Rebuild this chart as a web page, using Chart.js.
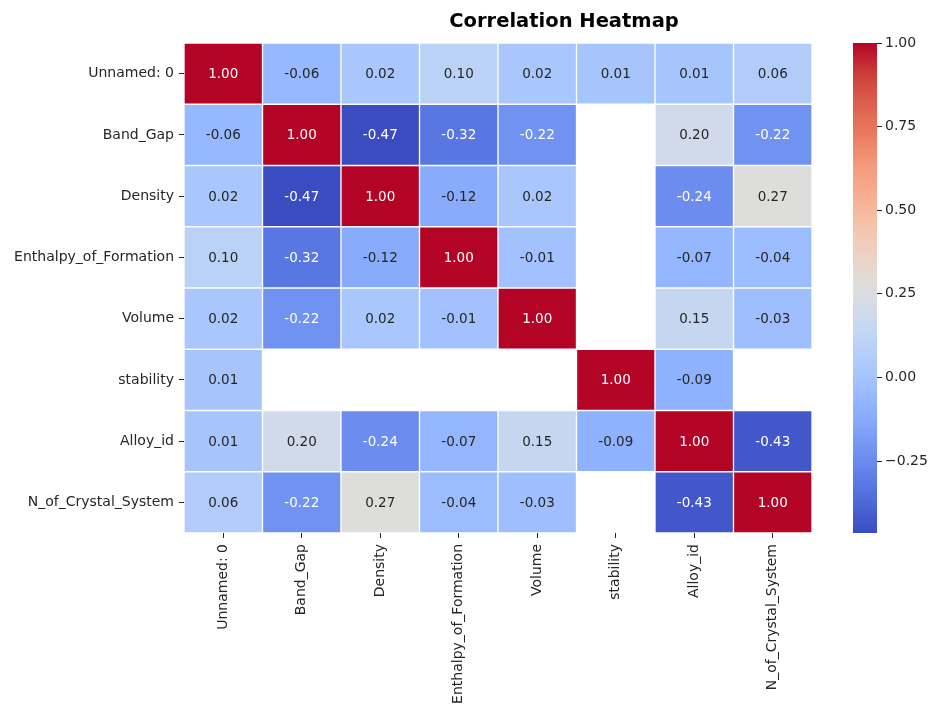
<!DOCTYPE html>
<html>
<head>
<meta charset="utf-8">
<script src="https://cdn.jsdelivr.net/npm/chart.js@4.4.0/dist/chart.umd.min.js"></script>
<style>
    html, body { margin: 0; padding: 0; background: #fff; }
    #wrap { position: relative; width: 929px; height: 707px; overflow: hidden; }
    #wrap canvas { position: absolute; left: 0; top: 0; }
    #title {
        position: absolute; top: 11px; left: 564px; transform: translateX(-50%);
        font: bold 19.5px "DejaVu Sans"; line-height: 19px; color: #000; white-space: nowrap;
    }
</style>
</head>
<body>
<div id="wrap">
    <canvas id="heatmap" width="929" height="707"></canvas>
    <canvas id="colorbar" width="929" height="707"></canvas>
    <div id="title">Correlation Heatmap</div>
</div>
<script>
// labels (rows and columns are the same variables)
const varLabels = ["Unnamed: 0", "Band_Gap", "Density", "Enthalpy_of_Formation",
    "Volume", "stability", "Alloy_id", "N_of_Crystal_System"];

// correlation rows, null = NaN (blank cell)
const rowUnnamed   = [1.00, -0.06, 0.02, 0.10, 0.02, 0.01, 0.01, 0.06];
const rowBandGap   = [-0.06, 1.00, -0.47, -0.32, -0.22, null, 0.20, -0.22];
const rowDensity   = [0.02, -0.47, 1.00, -0.12, 0.02, null, -0.24, 0.27];
const rowEnthalpy  = [0.10, -0.32, -0.12, 1.00, -0.01, null, -0.07, -0.04];
const rowVolume    = [0.02, -0.22, 0.02, -0.01, 1.00, null, 0.15, -0.03];
const rowStability = [0.01, null, null, null, null, 1.00, -0.09, null];
const rowAlloyId   = [0.01, 0.20, -0.24, -0.07, 0.15, -0.09, 1.00, -0.43];
const rowCrystal   = [0.06, -0.22, 0.27, -0.04, -0.03, null, -0.43, 1.00];

const colorbarTicks = [-0.25, 0.00, 0.25, 0.50, 0.75, 1.00];
const colorMin = -0.465;
const colorMax = 1.0;

const heatmapRows = [rowUnnamed, rowBandGap, rowDensity, rowEnthalpy,
    rowVolume, rowStability, rowAlloyId, rowCrystal];

// matplotlib coolwarm, sampled
const coolwarmStops = [
    [0.0, [59, 76, 192]], [0.0625, [77, 104, 215]], [0.125, [98, 130, 234]],
    [0.1875, [119, 155, 246]], [0.25, [141, 176, 254]], [0.3125, [163, 194, 254]],
    [0.375, [184, 208, 249]], [0.4375, [204, 217, 238]], [0.5, [221, 221, 221]],
    [0.5625, [236, 211, 197]], [0.625, [245, 196, 173]], [0.6875, [247, 174, 145]],
    [0.75, [244, 154, 123]], [0.8125, [234, 123, 96]], [0.875, [222, 96, 77]],
    [0.9375, [203, 62, 56]], [1.0, [180, 4, 38]]
];

function coolwarmRGB(t) {
    t = Math.max(0, Math.min(1, t));
    for (let i = 1; i < coolwarmStops.length; i++) {
        const [t1, c1] = coolwarmStops[i];
        if (t <= t1) {
            const [t0, c0] = coolwarmStops[i - 1];
            const f = (t - t0) / (t1 - t0);
            return c0.map((c, k) => Math.round(c + (c1[k] - c) * f));
        }
    }
    return coolwarmStops[coolwarmStops.length - 1][1];
}

function valueRGB(v) {
    return coolwarmRGB((v - colorMin) / (colorMax - colorMin));
}

function rgbStr(c) {
    return `rgb(${c[0]}, ${c[1]}, ${c[2]})`;
}

// seaborn picks white text on dark cells
function textColorFor(v) {
    const lin = valueRGB(v).map(c => {
        c = c / 255;
        return c <= 0.03928 ? c / 12.92 : Math.pow((c + 0.055) / 1.055, 2.4);
    });
    const lum = 0.2126 * lin[0] + 0.7152 * lin[1] + 0.0722 * lin[2];
    return lum < 0.408 ? "#ffffff" : "#262626";
}

const tickFont = { family: "DejaVu Sans", size: 14 };
const textGray = "#262626";

// write the numbers in each cell
const annotatePlugin = {
    id: "annotate",
    afterDatasetsDraw(chart) {
        const ctx = chart.ctx;
        ctx.save();
        ctx.font = `13.5px "DejaVu Sans"`;
        ctx.textAlign = "center";
        ctx.textBaseline = "middle";
        chart.data.datasets.forEach((ds, r) => {
            const meta = chart.getDatasetMeta(r);
            meta.data.forEach((bar, c) => {
                const v = heatmapRows[r][c];
                if (v === null) return;
                ctx.fillStyle = textColorFor(v);
                ctx.fillText(v.toFixed(2), bar.x, (bar.y + bar.base) / 2 + 1);
            });
        });
        ctx.restore();
    }
};

new Chart(document.getElementById("heatmap").getContext("2d"), {
    type: "bar",
    data: {
        labels: varLabels,
        datasets: heatmapRows.map((vals, r) => ({
            label: varLabels[r],
            data: vals.map(v => v === null ? null : [r - 0.5, r + 0.5]),
            backgroundColor: vals.map(v => v === null ? "rgba(0,0,0,0)" : rgbStr(valueRGB(v))),
            borderColor: "#ffffff",
            borderWidth: 1,
            borderSkipped: false,
            grouped: false,
            barPercentage: 1,
            categoryPercentage: 1
        }))
    },
    options: {
        responsive: false,
        animation: false,
        layout: { padding: { left: 0, right: 117, top: 43, bottom: 0 } },
        plugins: { legend: { display: false }, tooltip: { enabled: false } },
        scales: {
            x: {
                type: "category",
                offset: true,
                grid: { offset: false, drawOnChartArea: false, drawTicks: true, tickLength: 5, color: textGray },
                border: { display: false },
                ticks: { autoSkip: false, maxRotation: 90, minRotation: 90, padding: 6, font: tickFont, color: textGray },
                afterFit: s => { s.height = 174; }
            },
            y: {
                type: "linear",
                reverse: true,
                min: -0.5,
                max: 7.5,
                afterBuildTicks: s => { s.ticks = varLabels.map((_, i) => ({ value: i })); },
                grid: { drawOnChartArea: false, drawTicks: true, tickLength: 5, color: textGray },
                border: { display: false },
                ticks: { autoSkip: false, padding: 5, font: tickFont, color: textGray, callback: v => varLabels[v] },
                afterFit: s => { s.width = 184; }
            }
        }
    },
    plugins: [annotatePlugin]
});

// colorbar
new Chart(document.getElementById("colorbar").getContext("2d"), {
    type: "bar",
    data: {
        labels: [""],
        datasets: [{
            data: [[colorMin, colorMax]],
            borderWidth: 0,
            barPercentage: 1,
            categoryPercentage: 1,
            backgroundColor: ctx => {
                const area = ctx.chart.chartArea;
                if (!area) return "rgba(0,0,0,0)";
                const g = ctx.chart.ctx.createLinearGradient(0, area.bottom, 0, area.top);
                for (let i = 0; i <= 64; i++) {
                    g.addColorStop(i / 64, rgbStr(coolwarmRGB(i / 64)));
                }
                return g;
            }
        }]
    },
    options: {
        responsive: false,
        animation: false,
        layout: { padding: { left: 853, right: 0, top: 43, bottom: 174 } },
        plugins: { legend: { display: false }, tooltip: { enabled: false } },
        scales: {
            x: { display: false },
            y: {
                position: "right",
                min: colorMin,
                max: colorMax,
                afterBuildTicks: s => { s.ticks = colorbarTicks.map(v => ({ value: v })); },
                grid: { drawOnChartArea: false, drawTicks: true, tickLength: 5, color: textGray },
                border: { display: false },
                ticks: { padding: 3, font: tickFont, color: textGray, callback: v => v.toFixed(2).replace("-", "\u2212") },
                afterFit: s => { s.width = 52; }
            }
        }
    }
});
</script>
</body>
</html>
